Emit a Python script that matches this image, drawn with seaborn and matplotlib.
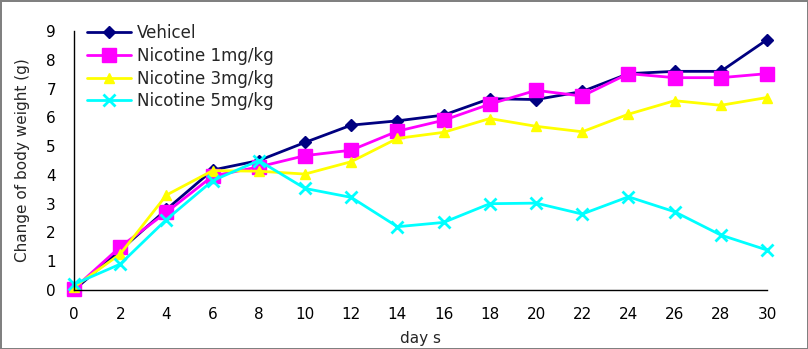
import matplotlib
matplotlib.use("Agg")
import matplotlib.pyplot as plt
import seaborn as sns

days = list(range(0, 31, 2))
vehicle = [0.0, 1.38, 2.8, 4.17, 4.5, 5.13, 5.73, 5.88, 6.08, 6.65, 6.62, 6.9, 7.52, 7.6, 7.6, 8.7]
nic1 = [0.05, 1.5, 2.7, 3.96, 4.28, 4.67, 4.86, 5.52, 5.9, 6.46, 6.94, 6.74, 7.52, 7.38, 7.38, 7.52]
nic3 = [0.1, 1.25, 3.3, 4.15, 4.13, 4.03, 4.46, 5.27, 5.48, 5.96, 5.69, 5.5, 6.11, 6.58, 6.42, 6.69]
nic5 = [0.2, 0.9, 2.45, 3.8, 4.5, 3.53, 3.22, 2.2, 2.35, 3.0, 3.02, 2.64, 3.24, 2.72, 1.91, 1.39]

labels = ["Vehicel", "Nicotine 1mg/kg", "Nicotine 3mg/kg", "Nicotine 5mg/kg"]
colors = ["#000080", "#FF00FF", "#FFFF00", "#00FFFF"]
markers = ["D", "s", "^", "x"]
msizes = [6, 10, 7, 8]

sns.set_style("white")
plt.rcParams["font.family"] = ["DejaVu Sans"]

fig = plt.figure(figsize=(8.08, 3.49), dpi=100)
fig.patch.set_edgecolor("#808080")
fig.patch.set_linewidth(2)
ax = fig.add_axes([0.0916, 0.169, 0.8577, 0.742])

for vals, lab, col, mk, ms in zip([vehicle, nic1, nic3, nic5], labels, colors, markers, msizes):
    sns.lineplot(x=days, y=vals, ax=ax, color=col, marker=mk, markersize=ms,
                 markeredgecolor=col, markeredgewidth=2 if mk == "x" else 1,
                 linewidth=2, label=lab, clip_on=False)

ax.set_xlim(0, 30)
ax.set_ylim(0, 9)
ax.set_xticks(days)
ax.set_yticks(range(0, 10))
ax.tick_params(direction="in", length=4, width=1, labelsize=11, colors="black")
ax.tick_params(axis="x", pad=12)
ax.tick_params(axis="y", pad=13)
for s in ["top", "right"]:
    ax.spines[s].set_visible(False)
for s in ["left", "bottom"]:
    ax.spines[s].set_color("black")
    ax.spines[s].set_linewidth(1)

ax.set_xlabel("day s", fontsize=11, labelpad=7)
ax.set_ylabel("Change of body weight (g)", fontsize=11, labelpad=12)

leg = ax.legend(loc="upper left", bbox_to_anchor=(0.005, 1.065), frameon=False,
                fontsize=12, handlelength=2.6, handletextpad=0.35,
                labelspacing=0.28, borderaxespad=0.2)

fig.savefig("out.png", dpi=100)
